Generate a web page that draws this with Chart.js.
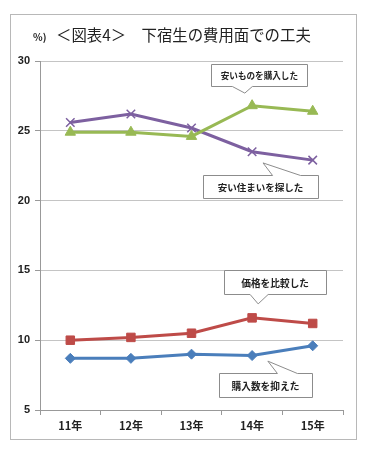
<!DOCTYPE html>
<html>
<head>
<meta charset="utf-8">
<script src="https://cdn.jsdelivr.net/npm/chart.js@4"></script>
<style>
  body { margin: 0; background: #fff; }
  #wrap { width: 366px; height: 449px; position: relative; }
</style>
</head>
<body>
<div id="wrap"><canvas id="chart" width="366" height="449"></canvas></div>
<script>
var years = ['11年', '12年', '13年', '14年', '15年'];
var buyCheap = [24.9, 24.9, 24.6, 26.8, 26.4];      // 安いものを購入した
var cheapHouse = [25.6, 26.2, 25.2, 23.5, 22.9];    // 安い住まいを探した
var comparePrice = [10.0, 10.2, 10.5, 11.6, 11.2];  // 価格を比較した
var buyLess = [8.7, 8.7, 9.0, 8.9, 9.6];            // 購入数を抑えた
var yTicks = [5, 10, 15, 20, 25, 30];

var jp = '"Noto Sans CJK JP", "Noto Sans", sans-serif';

// callouts: centre and tip in data units (category index, value), size in px
var callouts = [
  { text: '安いものを購入した', size: 8.6, cx: 3.12, cy: 29.0, w: 96, h: 22, tx: 2.88, ty: 27.7, side: 'bottom', b0: -27, b1: -7 },
  { text: '安い住まいを探した', size: 9.5, cx: 3.14, cy: 21.0, w: 115, h: 23, tx: 3.18, ty: 22.7, side: 'top', b0: 12, b1: 40 },
  { text: '価格を比較した', size: 9.7, cx: 3.38, cy: 14.17, w: 102, h: 24, tx: 3.10, ty: 12.6, side: 'bottom', b0: -25, b1: -7 },
  { text: '購入数を抑えた', size: 9.7, cx: 3.22, cy: 6.8, w: 93, h: 24, tx: 3.26, ty: 8.5, side: 'top', b0: 12, b1: 32 }
];

var framePlugin = {
  id: 'frame',
  beforeDraw: function(chart) {
    var c = chart.ctx;
    c.save();
    c.strokeStyle = '#b8b8b8';
    c.lineWidth = 1;
    c.strokeRect(10.5, 14.5, 346, 425);
    // title
    c.fillStyle = '#222';
    c.textBaseline = 'middle';
    c.font = 'bold 10px ' + jp;
    c.fillText('%)', 33, 37);
    c.font = '15.4px ' + jp;
    c.fillText('＜図表4＞　下宿生の費用面での工夫', 56, 35);
    c.restore();
  },
  afterDatasetsDraw: function(chart) {
    var c = chart.ctx;
    var xs = chart.scales.x, ys = chart.scales.y;
    c.save();
    callouts.forEach(function(o) {
      var cx = xs.getPixelForValue(o.cx), cy = ys.getPixelForValue(o.cy);
      var tx = xs.getPixelForValue(o.tx), ty = ys.getPixelForValue(o.ty);
      var l = Math.round(cx - o.w / 2) + 0.5, r = l + o.w;
      var t = Math.round(cy - o.h / 2) + 0.5, b = t + o.h;
      var bx0 = cx + o.b0, bx1 = cx + o.b1;
      c.beginPath();
      c.moveTo(l, t);
      if (o.side === 'top') { c.lineTo(bx0, t); c.lineTo(tx, ty); c.lineTo(bx1, t); }
      c.lineTo(r, t);
      c.lineTo(r, b);
      if (o.side === 'bottom') { c.lineTo(bx1, b); c.lineTo(tx, ty); c.lineTo(bx0, b); }
      c.lineTo(l, b);
      c.closePath();
      c.fillStyle = '#fff';
      c.fill();
      c.strokeStyle = '#8c8c8c';
      c.lineWidth = 1;
      c.stroke();
      c.fillStyle = '#222';
      c.font = 'bold ' + o.size + 'px ' + jp;
      c.textAlign = 'center';
      c.textBaseline = 'middle';
      c.fillText(o.text, cx, cy + 1);
    });
    c.restore();
  }
};

function series(data, color, style, radius) {
  return {
    data: data,
    borderColor: color,
    backgroundColor: color,
    pointBackgroundColor: color,
    pointBorderColor: color,
    borderWidth: 3,
    pointStyle: style,
    pointRadius: radius,
    pointBorderWidth: style === 'crossRot' ? 1.5 : 1,
    tension: 0
  };
}

new Chart(document.getElementById('chart'), {
  type: 'line',
  data: {
    labels: years,
    datasets: [
      series(buyLess, '#4a7ebb', 'rectRot', 5),
      series(comparePrice, '#be4b48', 'rect', 6),
      series(buyCheap, '#98b954', 'triangle', 6),
      series(cheapHouse, '#7d60a0', 'crossRot', 6)
    ]
  },
  options: {
    responsive: false,
    animation: false,
    layout: { padding: { left: 10, right: 23, top: 61, bottom: 9 } },
    plugins: {
      legend: { display: false },
      tooltip: { enabled: false }
    },
    scales: {
      x: {
        offset: true,
        afterFit: function(s) { s.height = 30; },
        grid: { offset: true, drawOnChartArea: false, color: '#999', tickLength: 5 },
        border: { color: '#999' },
        ticks: { color: '#222', font: { family: jp, size: 11, weight: 'bold' }, padding: 4 }
      },
      y: {
        min: 5,
        max: 30,
        afterFit: function(s) { s.width = 30; },
        afterBuildTicks: function(s) { s.ticks = yTicks.map(function(v) { return { value: v }; }); },
        grid: { color: '#c4c4c4', tickLength: 5, tickColor: '#999' },
        border: { color: '#999' },
        ticks: { color: '#222', font: { family: 'Liberation Sans, sans-serif', size: 11, weight: 'bold' }, padding: 5 }
      }
    }
  },
  plugins: [framePlugin]
});
</script>
</body>
</html>
